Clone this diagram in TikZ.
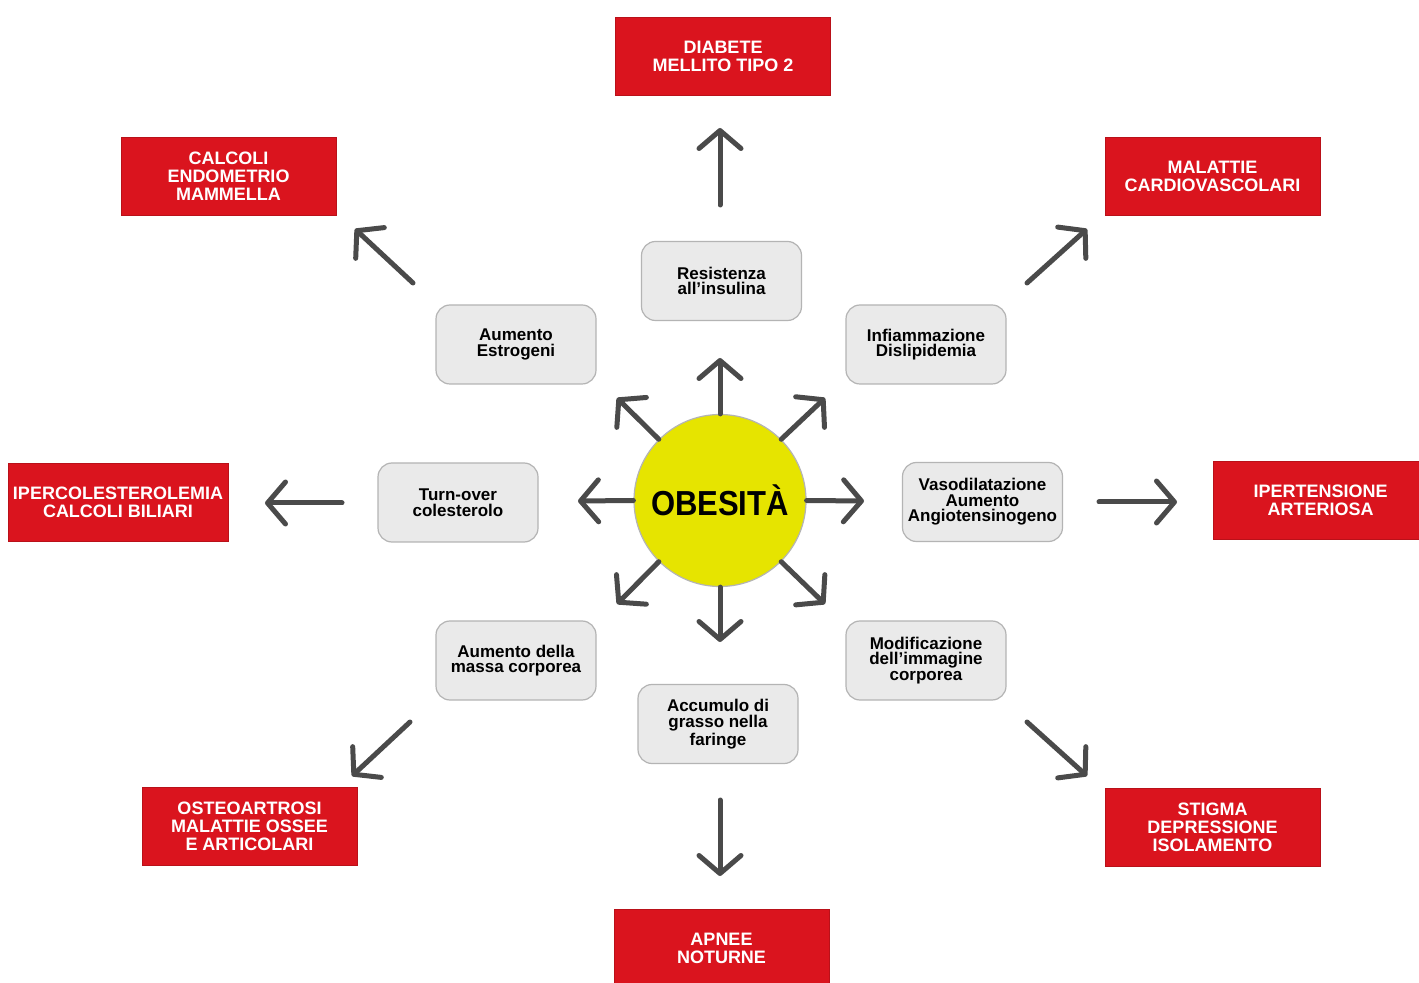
\documentclass[tikz,border=0pt]{standalone}
\usepackage{fontspec}
\setmainfont{Liberation Sans}
\usetikzlibrary{arrows.meta}
\definecolor{obred}{RGB}{218,20,30}
\definecolor{obgreyfill}{RGB}{234,234,234}
\definecolor{obgreyline}{RGB}{180,180,180}
\definecolor{obyellow}{RGB}{230,228,0}
\definecolor{obarrow}{RGB}{74,74,74}
\begin{document}
\begin{tikzpicture}[x=0.5pt,y=-0.5pt,
 redbox/.style={fill=obred, draw=obred!85!black, line width=0.4pt, minimum width=107.5pt, minimum height=39pt, inner sep=0pt, align=center, text=white, font=\bfseries\fontsize{9}{9}\selectfont},
 greybox/.style={fill=obgreyfill, draw=obgreyline, line width=0.6pt, rounded corners=7pt, minimum width=80pt, minimum height=39.5pt, inner sep=0pt, align=center, font=\bfseries\fontsize{8.5}{7.8}\selectfont},
 arr/.style={draw=obarrow, line width=2.5pt, line cap=round, -{Straight Barb[length=9pt,width=21pt,line cap=round,line join=round]}}]
\useasboundingbox[fill=white] (0,0) rectangle (1419,983);

% red outcome boxes
\node[redbox] (dia) at (723,56.5) {DIABETE\\MELLITO TIPO 2};
\node[redbox] (cal) at (228.5,176) {CALCOLI\\ENDOMETRIO\\MAMMELLA};
\node[redbox] (mal) at (1212.5,176) {MALATTIE\\CARDIOVASCOLARI};
\node[redbox, minimum width=110pt] (ipc) at (118,502.5) {IPERCOLESTEROLEMIA\\CALCOLI BILIARI};
\node[redbox] (ipt) at (1320.5,500.5) {IPERTENSIONE\\ARTERIOSA};
\node[redbox] (ost) at (249.5,826) {OSTEOARTROSI\\MALATTIE OSSEE\\E ARTICOLARI};
\node[redbox] (sti) at (1212.5,827) {STIGMA\\DEPRESSIONE\\ISOLAMENTO};
\node[redbox] (apn) at (721.5,948) {APNEE\\NOTURNE};

% grey mechanism boxes
\node[greybox] (res) at (721.5,281) {Resistenza\\all’insulina};
\node[greybox] (est) at (516,344.5) {Aumento\\Estrogeni};
\node[greybox] (inf) at (926,344.5) {Infiammazione\\Dislipidemia};
\node[greybox] (tur) at (458,502.5) {Turn-over\\colesterolo};
\node[greybox] (vas) at (982.5,502) {Vasodilatazione\\Aumento\\Angiotensinogeno};
\node[greybox] (mas) at (516,660.5) {Aumento della\\massa corporea};
\node[greybox] (mod) at (926,660.5) {Modificazione\\dell’immagine\\corporea};
\node[greybox] (acc) at (718,724) {Accumulo di\\grasso nella\\faringe};

% central circle
\node[circle, fill=obyellow, draw=obgreyline, line width=0.6pt, minimum size=86pt, inner sep=0pt] (ob) at (720,500.5)
  {\scalebox{1}[1.12]{\bfseries\fontsize{15.5}{16}\selectfont OBESITÀ}};

% inner arrow ends
\coordinate (iN) at (720,358);
\coordinate (iS) at (720,642);
\coordinate (iW) at (578,501);
\coordinate (iE) at (864,501);
\coordinate (iNE) at (825,398);
\coordinate (iNW) at (617,398);
\coordinate (iSW) at (617,604);
\coordinate (iSE) at (825,604);
\draw[arr] (ob.north) -- (iN);
\draw[arr] (ob.south) -- (iS);
\draw[arr] (ob.west) -- (iW);
\draw[arr] (ob.east) -- (iE);
\draw[arr] (ob.north east) -- (iNE);
\draw[arr] (ob.north west) -- (iNW);
\draw[arr] (ob.south west) -- (iSW);
\draw[arr] (ob.south east) -- (iSE);

% outer arrows
\coordinate (oNa) at (720,205);  \coordinate (oNb) at (720,128);
\coordinate (oNWa) at (413,283); \coordinate (oNWb) at (355,229);
\coordinate (oNEa) at (1027,283);\coordinate (oNEb) at (1087,229);
\coordinate (oWa) at (342,503);  \coordinate (oWb) at (265,503);
\coordinate (oEa) at (1099,502); \coordinate (oEb) at (1177,502);
\coordinate (oSWa) at (410,722); \coordinate (oSWb) at (352,776);
\coordinate (oSEa) at (1027,722);\coordinate (oSEb) at (1087,776);
\coordinate (oSa) at (720,800);  \coordinate (oSb) at (720,876);
\draw[arr] (oNa) -- (oNb);
\draw[arr] (oNWa) -- (oNWb);
\draw[arr] (oNEa) -- (oNEb);
\draw[arr] (oWa) -- (oWb);
\draw[arr] (oEa) -- (oEb);
\draw[arr] (oSWa) -- (oSWb);
\draw[arr] (oSEa) -- (oSEb);
\draw[arr] (oSa) -- (oSb);
\end{tikzpicture}
\end{document}
